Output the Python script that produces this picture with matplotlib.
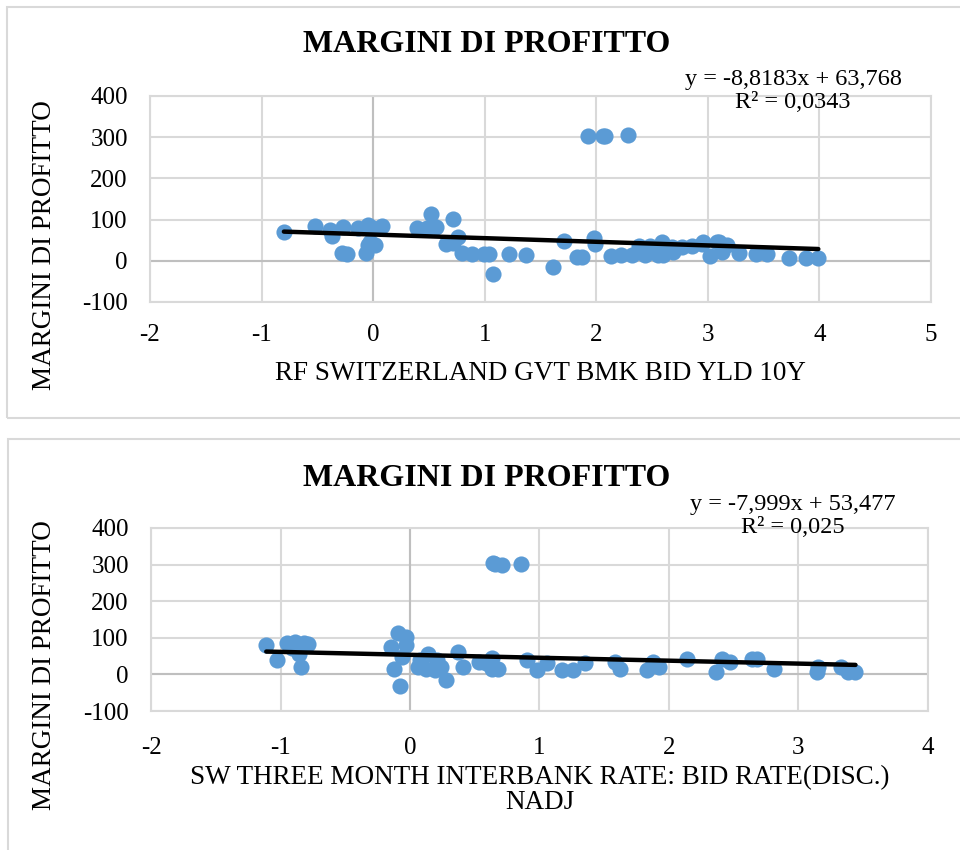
import numpy as np
import matplotlib
matplotlib.use('Agg')
import matplotlib.pyplot as plt
from matplotlib.patches import Rectangle

plt.rcParams['font.family'] = ['Liberation Serif', 'DejaVu Serif']
plt.rcParams['axes.unicode_minus'] = False

# top chart: RF Switzerland govt 10Y yield vs profit margins
x_top = [-0.80, -0.52, -0.39, -0.37, -0.27, -0.28, -0.23, -0.14, -0.05, -0.05, -0.06, 0.02,
         0.00, 0.08, -0.03, 0.39, 0.48, 0.52, 0.56, 0.72, 0.76, 0.65, 0.72, 0.80, 0.89,
         0.99, 1.04, 1.07, 1.22, 1.37, 1.61, 1.71, 1.83, 1.87, 1.98, 1.99, 2.13, 2.22,
         2.32, 2.44, 2.55, 2.38, 2.48, 2.59, 2.69, 2.68, 2.77, 2.86, 2.95, 3.02, 3.08,
         2.60, 2.96, 3.10, 3.17, 3.13, 3.28, 3.43, 3.53, 3.73, 3.88, 3.99,
         1.93, 2.06, 2.08, 2.28]
y_top = [71, 85, 75, 59, 83, 19, 17, 80, 87, 39, 19, 39,
         80, 85, 45, 80, 80, 114, 83, 102, 58, 41, 44, 19, 17,
         17, 17, -32, 17, 15, -15, 49, 10, 10, 56, 41, 12, 13,
         13, 13, 13, 37, 36, 46, 22, 33, 33, 37, 41, 12, 45,
         15, 46, 46, 39, 22, 19, 17, 17, 7, 7, 7,
         302, 304, 302, 306]
slope_top, icpt_top = -8.8183, 63.768
eq_top = 'y = -8,8183x + 63,768\nR² = 0,0343'
xlab_top = 'RF SWITZERLAND GVT BMK BID YLD 10Y'

# bottom chart: SW three month interbank rate vs profit margins
x_bot = [-1.11, -1.03, -0.95, -0.89, -0.82, -0.79, -0.91, -0.86, -0.84,
         -0.15, -0.09, -0.03, -0.03, -0.12, -0.08, -0.06,
         0.08, 0.14, 0.12, 0.21, 0.24, 0.28, 0.37, 0.41, 0.53, 0.19, 0.06,
         0.59, 0.63, 0.68, 0.63, 0.90, 0.98, 1.06, 1.17, 1.26, 1.35, 1.58, 1.62,
         1.83, 1.88, 1.92, 2.14, 2.36, 2.41, 2.47, 2.64, 2.68, 2.81,
         3.14, 3.15, 3.33, 3.38, 3.44,
         0.64, 0.66, 0.71, 0.86]
y_bot = [79, 38, 85, 88, 86, 82, 71, 57, 20,
         75, 112, 102, 79, 16, -33, 47,
         40, 57, 16, 38, 20, -16, 61, 20, 34, 11, 20,
         30, 16, 16, 44, 38, 11, 30, 11, 11, 30, 34, 14,
         11, 34, 20, 43, 6, 43, 34, 41, 43, 16,
         6, 20, 20, 6, 6,
         304, 303, 298, 302]
slope_bot, icpt_bot = -7.999, 53.477
eq_bot = 'y = -7,999x + 53,477\nR² = 0,025'
xlab_bot = 'SW THREE MONTH INTERBANK RATE: BID RATE(DISC.)\nNADJ'

title = 'MARGINI DI PROFITTO'
ylab = 'MARGINI DI PROFITTO'
yticks = [-100, 0, 100, 200, 300, 400]

W, H = 960, 850
fig = plt.figure(figsize=(9.6, 8.5), dpi=100)

# chart frames
fig.patches.append(Rectangle((7 / W, 1 - 418 / H), 960 / W, 411 / H, transform=fig.transFigure,
                             fill=False, edgecolor='#d9d9d9', linewidth=1.5))
fig.patches.append(Rectangle((8 / W, 1 - 900 / H), 960 / W, 461 / H, transform=fig.transFigure,
                             fill=False, edgecolor='#d9d9d9', linewidth=1.5))


def draw(rect, xs, ys, slope, icpt, xlim, xticks, eq, eq_xy, xlab, xlab_y, title_y, ylab_y, xpad):
    ax = fig.add_axes(rect)
    ax.set_xlim(*xlim)
    ax.set_ylim(-100, 400)
    ax.set_xticks(xticks)
    ax.set_yticks(yticks)
    ax.grid(True, color='#d9d9d9', linewidth=1.5)
    ax.axvline(0, color='#bfbfbf', linewidth=1.5, zorder=1)
    ax.axhline(0, color='#bfbfbf', linewidth=1.5, zorder=1)
    for s in ax.spines.values():
        s.set_color('#d9d9d9')
        s.set_linewidth(1.5)
    ax.tick_params(length=0, labelsize=18, pad=xpad, axis='x')
    ax.tick_params(length=0, labelsize=18, pad=16, axis='y')
    ax.set_axisbelow(True)
    ax.scatter(xs, ys, s=135, color='#5b9bd5', zorder=3, linewidths=0)
    xl = np.array([min(xs), max(xs)])
    ax.plot(xl, slope * xl + icpt, color='black', linewidth=3.2, zorder=4, solid_capstyle='round')
    fig.text(eq_xy[0] / W, 1 - eq_xy[1] / H, eq, ha='center', va='top', fontsize=17.5, linespacing=1.12)
    fig.text(487 / W, 1 - title_y / H, title, ha='center', va='center', fontsize=23, fontweight='bold')
    fig.text(540 / W, 1 - xlab_y / H, xlab, ha='center', va='top', fontsize=19.5, linespacing=1.0)
    fig.text(45 / W, 1 - ylab_y / H, ylab, ha='center', va='center', fontsize=19.5, rotation=90)
    return ax


draw([150 / W, 1 - 302 / H, 781 / W, 206 / H], x_top, y_top, slope_top, icpt_top,
     (-2, 5), [-2, -1, 0, 1, 2, 3, 4, 5], eq_top, (793, 69), xlab_top, 361, 45, 245, 16)
draw([151 / W, 1 - 711 / H, 777 / W, 183 / H], x_bot, y_bot, slope_bot, icpt_bot,
     (-2, 4), [-2, -1, 0, 1, 2, 3, 4], eq_bot, (793, 494), xlab_bot, 765, 478, 665, 19)

fig.savefig('out.png', dpi=100)
